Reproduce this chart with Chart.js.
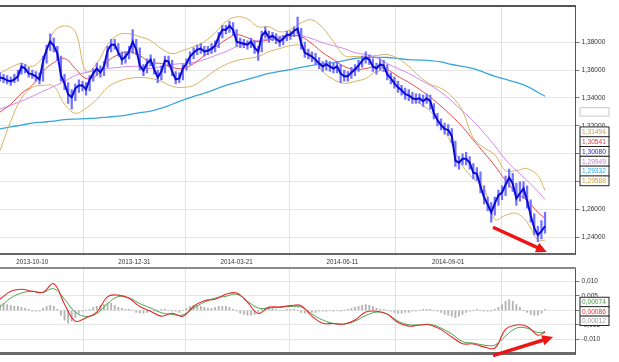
<!DOCTYPE html>
<html>
<head>
<meta charset="utf-8">
<script src="https://cdn.jsdelivr.net/npm/chart.js@4.4.1/dist/chart.umd.min.js"></script>
<style>
  html, body { margin: 0; padding: 0; background: #fff; }
  #wrap { position: relative; width: 619px; height: 362px; overflow: hidden; }
  canvas { position: absolute; left: 0; }
</style>
</head>
<body>
<div id="wrap">
  <canvas id="price" width="619" height="268" style="top:0"></canvas>
  <canvas id="macd" width="619" height="100" style="top:262px"></canvas>
</div>
<script>
// x axis = trading day index, one close every 2 days, indicators every 6 days
var dateLabels = ["2013-10-10", "2013-12-31", "2014-03-21", "2014-06-11", "2014-09-01"];
var labelDays = [18, 75, 132, 191, 250];

var priceTicks = [1.24, 1.26, 1.28, 1.30, 1.32, 1.34, 1.36, 1.38];
var macdTicks = [-0.010, -0.005, 0, 0.005, 0.010];

var closes = [1.3547,1.3540,1.3526,1.3519,1.3533,1.3555,1.3626,1.3611,1.3576,1.3569,
  1.3555,1.3533,1.3661,1.3747,1.3804,1.3775,1.3718,1.3562,1.3505,1.3427,
  1.3405,1.3469,1.3490,1.3490,1.3462,1.3533,1.3576,1.3611,1.3583,1.3626,
  1.3740,1.3782,1.3782,1.3725,1.3675,1.3697,1.3732,1.3804,1.3747,1.3633,
  1.3597,1.3647,1.3675,1.3604,1.3547,1.3590,1.3668,1.3661,1.3590,1.3533,
  1.3540,1.3611,1.3647,1.3697,1.3725,1.3747,1.3754,1.3732,1.3740,1.3754,
  1.3775,1.3839,1.3889,1.3889,1.3917,1.3889,1.3804,1.3796,1.3789,1.3782,
  1.3804,1.3761,1.3732,1.3846,1.3875,1.3832,1.3846,1.3825,1.3804,1.3825,
  1.3853,1.3853,1.3882,1.3896,1.3789,1.3725,1.3711,1.3697,1.3675,1.3647,
  1.3626,1.3640,1.3626,1.3611,1.3626,1.3576,1.3555,1.3555,1.3583,1.3604,
  1.3633,1.3668,1.3690,1.3675,1.3626,1.3611,1.3640,1.3633,1.3569,1.3540,
  1.3505,1.3476,1.3455,1.3427,1.3419,1.3398,1.3391,1.3398,1.3377,1.3398,
  1.3377,1.3291,1.3242,1.3206,1.3178,1.3170,1.3128,1.2950,1.2936,1.2964,
  1.2964,1.2936,1.2864,1.2857,1.2765,1.2687,1.2637,1.2580,1.2644,1.2701,
  1.2722,1.2779,1.2829,1.2786,1.2680,1.2715,1.2751,1.2665,1.2559,1.2466,
  1.2417,1.2445,1.2480];

var highs = [1.358,1.357,1.356,1.355,1.357,1.360,1.365,1.364,1.362,1.360,
  1.359,1.358,1.370,1.378,1.386,1.383,1.377,1.370,1.357,1.351,
  1.346,1.350,1.353,1.352,1.351,1.356,1.361,1.365,1.363,1.366,
  1.377,1.382,1.382,1.379,1.373,1.373,1.377,1.389,1.382,1.376,
  1.364,1.368,1.371,1.368,1.360,1.363,1.370,1.370,1.367,1.359,
  1.358,1.364,1.368,1.373,1.376,1.378,1.379,1.377,1.377,1.379,
  1.381,1.387,1.392,1.392,1.395,1.394,1.389,1.383,1.382,1.381,
  1.383,1.381,1.377,1.388,1.391,1.388,1.387,1.386,1.384,1.385,
  1.388,1.388,1.391,1.398,1.390,1.380,1.375,1.373,1.372,1.369,
  1.366,1.367,1.366,1.365,1.366,1.364,1.360,1.359,1.362,1.364,
  1.367,1.370,1.373,1.371,1.368,1.365,1.368,1.367,1.364,1.358,
  1.355,1.352,1.349,1.347,1.346,1.344,1.343,1.343,1.342,1.343,
  1.342,1.336,1.329,1.325,1.322,1.321,1.318,1.309,1.298,1.300,
  1.301,1.298,1.293,1.290,1.287,1.277,1.269,1.265,1.269,1.274,
  1.277,1.284,1.289,1.286,1.279,1.280,1.280,1.277,1.267,1.257,
  1.248,1.252,1.258];

var lows = [1.352,1.351,1.350,1.349,1.351,1.352,1.357,1.358,1.355,1.354,
  1.352,1.350,1.352,1.365,1.374,1.373,1.367,1.352,1.346,1.336,
  1.332,1.338,1.344,1.345,1.342,1.345,1.352,1.356,1.355,1.356,
  1.362,1.373,1.375,1.370,1.364,1.365,1.368,1.372,1.371,1.360,
  1.356,1.358,1.363,1.357,1.351,1.353,1.358,1.363,1.356,1.350,
  1.351,1.353,1.360,1.364,1.368,1.371,1.372,1.370,1.371,1.372,
  1.373,1.376,1.383,1.386,1.387,1.385,1.377,1.376,1.376,1.375,
  1.376,1.372,1.367,1.373,1.383,1.380,1.381,1.379,1.377,1.378,
  1.381,1.382,1.384,1.386,1.375,1.369,1.368,1.366,1.364,1.361,
  1.359,1.360,1.359,1.358,1.358,1.351,1.352,1.352,1.354,1.356,
  1.359,1.362,1.365,1.364,1.359,1.357,1.360,1.359,1.353,1.350,
  1.347,1.344,1.342,1.339,1.338,1.336,1.336,1.336,1.334,1.336,
  1.332,1.325,1.320,1.317,1.314,1.313,1.308,1.291,1.289,1.292,
  1.292,1.289,1.282,1.281,1.272,1.264,1.259,1.251,1.256,1.263,
  1.267,1.270,1.276,1.273,1.263,1.266,1.268,1.261,1.251,1.242,
  1.237,1.239,1.243];

var ma20 = [1.3299,1.3355,1.3433,1.3490,1.3590,1.3654,1.3683,1.3611,1.3540,1.3562,
  1.3661,1.3711,1.3732,1.3704,1.3654,1.3647,1.3619,1.3611,1.3647,1.3704,
  1.3761,1.3818,1.3853,1.3832,1.3804,1.3818,1.3825,1.3846,1.3839,1.3789,
  1.3725,1.3675,1.3626,1.3604,1.3611,1.3626,1.3604,1.3555,1.3512,1.3462,
  1.3405,1.3341,1.3270,1.3192,1.3099,1.3007,1.2914,1.2808,1.2722,1.2665,
  1.2580,1.2537];

var ma50 = [1.3320,1.3348,1.3377,1.3412,1.3448,1.3483,1.3519,1.3562,1.3583,1.3597,
  1.3611,1.3619,1.3626,1.3626,1.3611,1.3626,1.3640,1.3647,1.3654,1.3675,
  1.3704,1.3732,1.3768,1.3789,1.3811,1.3825,1.3839,1.3846,1.3846,1.3825,
  1.3796,1.3775,1.3754,1.3725,1.3711,1.3690,1.3647,1.3611,1.3576,1.3533,
  1.3491,1.3441,1.3377,1.3306,1.3234,1.3149,1.3057,1.2957,1.2879,1.2808,
  1.2730,1.2672];

var ma200 = [1.3178,1.3192,1.3206,1.3220,1.3227,1.3234,1.3245,1.3249,1.3252,1.3256,
  1.3263,1.3270,1.3281,1.3295,1.3305,1.3327,1.3355,1.3384,1.3412,1.3434,
  1.3462,1.3491,1.3512,1.3533,1.3555,1.3576,1.3590,1.3604,1.3619,1.3633,
  1.3647,1.3654,1.3668,1.3683,1.3690,1.3690,1.3690,1.3683,1.3675,1.3672,
  1.3668,1.3658,1.3640,1.3626,1.3611,1.3583,1.3555,1.3533,1.3512,1.3483,
  1.3441,1.3412];

var bandUpper = [1.3576,1.3619,1.3647,1.3626,1.3697,1.3875,1.3917,1.3875,1.3590,1.3647,
  1.3782,1.3853,1.3860,1.3839,1.3811,1.3754,1.3718,1.3740,1.3768,1.3804,
  1.3868,1.3946,1.3981,1.3967,1.3910,1.3910,1.3875,1.3889,1.3939,1.3960,
  1.3903,1.3804,1.3704,1.3697,1.3697,1.3704,1.3711,1.3683,1.3626,1.3555,
  1.3498,1.3469,1.3412,1.3306,1.3114,1.3042,1.2993,1.2879,1.2879,1.2893,
  1.2843,1.2736];

var bandLower = [1.3021,1.3234,1.3398,1.3476,1.3490,1.3483,1.3355,1.3291,1.3327,1.3391,
  1.3476,1.3519,1.3540,1.3547,1.3540,1.3519,1.3483,1.3476,1.3490,1.3540,
  1.3597,1.3640,1.3668,1.3683,1.3697,1.3732,1.3754,1.3775,1.3775,1.3697,
  1.3590,1.3533,1.3505,1.3519,1.3540,1.3590,1.3583,1.3505,1.3427,1.3362,
  1.3306,1.3206,1.3071,1.2914,1.2822,1.2751,1.2530,1.2559,1.2573,1.2509,
  1.2381,1.2381];

var macdLine = [0.0038,0.0065,0.0072,0.0065,0.0062,0.0091,0.0021,-0.0037,-0.0025,-0.0006,
  0.0047,0.0052,0.0041,0.0013,-0.0003,-0.0020,-0.0010,-0.0020,0.0014,0.0033,
  0.0038,0.0055,0.0059,0.0028,-0.0011,0.0011,0.0011,0.0016,0.0016,-0.0020,
  -0.0044,-0.0045,-0.0047,-0.0033,-0.0006,-0.0003,-0.0013,-0.0042,-0.0054,-0.0050,
  -0.0050,-0.0066,-0.0091,-0.0114,-0.0115,-0.0125,-0.0129,-0.0065,-0.0050,-0.0055,
  -0.0085,-0.0074];

var signalLine = [0.0011,0.0042,0.0059,0.0065,0.0061,0.0074,0.0038,-0.0006,-0.0021,-0.0011,
  0.0023,0.0047,0.0042,0.0023,0.0008,-0.0008,-0.0014,-0.0016,0.0008,0.0028,
  0.0042,0.0048,0.0055,0.0031,0.0008,0.0008,0.0011,0.0013,0.0011,-0.0013,
  -0.0033,-0.0045,-0.0047,-0.0037,-0.0018,-0.0006,-0.0013,-0.0037,-0.0049,-0.0050,
  -0.0048,-0.0061,-0.0081,-0.0107,-0.0112,-0.0119,-0.0119,-0.0088,-0.0061,-0.0061,
  -0.0076,-0.0073];

var histogram = [0.0020,0.0024,0.0020,0.0017,0.0014,0.0014,0.0010,0.0007,0.0003,-0.0003,
  -0.0003,-0.0003,0.0007,0.0014,0.0017,0.0014,0.0003,-0.0017,-0.0034,-0.0044,
  -0.0037,-0.0024,-0.0010,-0.0003,0,0.0003,0.0010,0.0014,0.0017,0.0020,
  0.0024,0.0024,0.0017,0.0010,0.0007,0.0003,0.0003,0,-0.0007,-0.0010,
  -0.0010,-0.0007,-0.0003,-0.0003,-0.0003,0.0003,0.0003,0,-0.0003,-0.0003,
  -0.0007,0,0.0007,0.0014,0.0017,0.0017,0.0014,0.0010,0.0007,0.0007,
  0.0010,0.0014,0.0014,0.0014,0.0010,0.0003,-0.0003,-0.0010,-0.0014,-0.0017,
  -0.0017,-0.0014,-0.0007,0.0003,0.0007,0.0010,0.0007,0.0003,0,0,
  0.0003,0.0003,0.0003,0,-0.0007,-0.0010,-0.0010,-0.0007,-0.0007,-0.0003,
  -0.0003,-0.0003,0,-0.0003,0,-0.0003,0,0.0003,0.0007,0.0010,
  0.0014,0.0017,0.0020,0.0017,0.0014,0.0007,0.0003,0.0003,0,-0.0003,
  -0.0007,-0.0010,-0.0010,-0.0007,-0.0007,-0.0003,-0.0003,0,0.0003,0.0003,
  0.0003,0,-0.0003,-0.0007,-0.0014,-0.0017,-0.0020,-0.0024,-0.0020,-0.0014,
  -0.0007,-0.0003,0,0.0003,0,-0.0003,-0.0003,-0.0003,0.0003,0.0010,
  0.0020,0.0031,0.0037,0.0031,0.0020,0.0010,0,-0.0007,-0.0014,-0.0017,
  -0.0017,-0.0010,0.0003];

// value tags on the right axis
var priceTagTexts = ["1,31494", "1,30541", "1,30080", "1,29949", "1,29332", "1,29588"];
var priceTagColors = ["#c9a04a", "#e23a3a", "#2323c8", "#c27be0", "#2ea3df", "#c9a04a"];
var priceTagTop = 1.3196;
var emptyTagTop = 1.3334;
var macdTagTexts = ["0,00074", "0,00086", "0,00012"];
var macdTagColors = ["#3c9a3c", "#e03030", "#9a9a9a"];
var macdTagTop = 0.00464;

// red arrows, [day, value] pairs
var priceArrow = [[275, 1.2473], [305, 1.2296]];
var macdArrow = [[275, -0.0155], [308.5, -0.00914]];

var priceDays = [];
for (var k = 0; k < closes.length; k++) priceDays.push(k * 2);
var maDays = [];
for (var d = 0; d <= 300; d += 6) maDays.push(d);
maDays.push(304);

Chart.defaults.font.family = "'Liberation Sans', Arial, sans-serif";

function series(days, vals) {
  return vals.map(function (v, i) { return { x: days[i], y: v }; });
}
function lineSet(days, vals, color, width, order) {
  return { type: 'line', data: series(days, vals), borderColor: color, borderWidth: width,
    pointRadius: 0, tension: 0.4, fill: false, order: order };
}
function comma(v, n) { return v.toFixed(n).replace('.', ','); }

function drawTag(ctx, left, top, h, text, color, border) {
  ctx.fillStyle = '#fff';
  ctx.fillRect(left, top, 29, h);
  ctx.strokeStyle = border;
  ctx.lineWidth = 1;
  ctx.strokeRect(left + 0.5, top + 0.5, 29, h);
  if (text) {
    ctx.fillStyle = color;
    ctx.font = "6.6px 'Liberation Sans', Arial";
    ctx.textBaseline = 'middle';
    ctx.textAlign = 'left';
    ctx.fillText(text, left + 2.5, top + h / 2 + 1);
  }
}
function drawArrow(ctx, x0, y0, x1, y1) {
  var ang = Math.atan2(y1 - y0, x1 - x0), head = 12;
  ctx.strokeStyle = '#ee1515';
  ctx.fillStyle = '#ee1515';
  ctx.lineWidth = 3.5;
  ctx.beginPath();
  ctx.moveTo(x0, y0);
  ctx.lineTo(x1 - Math.cos(ang) * head * 0.7, y1 - Math.sin(ang) * head * 0.7);
  ctx.stroke();
  ctx.beginPath();
  ctx.moveTo(x1, y1);
  ctx.lineTo(x1 - head * Math.cos(ang - 0.45), y1 - head * Math.sin(ang - 0.45));
  ctx.lineTo(x1 - head * Math.cos(ang + 0.45), y1 - head * Math.sin(ang + 0.45));
  ctx.closePath();
  ctx.fill();
}

var tickFont = { size: 6.6 };

var priceOverlay = {
  id: 'priceOverlay',
  afterDraw: function (chart) {
    var ctx = chart.ctx, a = chart.chartArea, xs = chart.scales.x, ys = chart.scales.y;
    ctx.save();
    ctx.strokeStyle = '#555';
    ctx.lineWidth = 2;
    ctx.beginPath();
    ctx.moveTo(0, a.top);
    ctx.lineTo(a.right + 0.5, a.top);
    ctx.stroke();
    drawTag(ctx, a.right + 4, ys.getPixelForValue(emptyTagTop), 8.5, '', '#000', '#c8c8c8');
    var top = ys.getPixelForValue(priceTagTop);
    for (var i = 0; i < priceTagTexts.length; i++) {
      drawTag(ctx, a.right + 4, top + i * 9.8, 9.8, priceTagTexts[i], priceTagColors[i], '#222');
    }
    drawArrow(ctx, xs.getPixelForValue(priceArrow[0][0]), ys.getPixelForValue(priceArrow[0][1]),
      xs.getPixelForValue(priceArrow[1][0]), ys.getPixelForValue(priceArrow[1][1]));
    ctx.restore();
  }
};

var macdOverlay = {
  id: 'macdOverlay',
  afterDraw: function (chart) {
    var ctx = chart.ctx, a = chart.chartArea, xs = chart.scales.x, ys = chart.scales.y;
    ctx.save();
    ctx.strokeStyle = '#8a8a8a';
    ctx.lineWidth = 2;
    ctx.beginPath();
    ctx.moveTo(0, a.top);
    ctx.lineTo(a.right + 0.5, a.top);
    ctx.stroke();
    var top = ys.getPixelForValue(macdTagTop);
    for (var i = 0; i < macdTagTexts.length; i++) {
      drawTag(ctx, a.right + 4, top + i * 9.4, 9.4, macdTagTexts[i], macdTagColors[i], '#222');
    }
    drawArrow(ctx, xs.getPixelForValue(macdArrow[0][0]), ys.getPixelForValue(macdArrow[0][1]),
      xs.getPixelForValue(macdArrow[1][0]), ys.getPixelForValue(macdArrow[1][1]));
    ctx.restore();
  }
};

new Chart(document.getElementById('price'), {
  type: 'line',
  data: {
    datasets: [
      { type: 'line', data: series(priceDays, closes), borderColor: '#0a0ad2', borderWidth: 2,
        pointRadius: 0, tension: 0, fill: false, order: 1 },
      { type: 'bar', data: priceDays.map(function (d, i) { return { x: d, y: [lows[i], highs[i]] }; }),
        backgroundColor: '#7272ff', barThickness: 1.6, order: 2 },
      lineSet(maDays, ma20, '#e84848', 1, 3),
      lineSet(maDays, ma50, '#d385ee', 1, 4),
      lineSet(maDays, bandUpper, '#d7b262', 1, 5),
      lineSet(maDays, bandLower, '#d7b262', 1, 6),
      lineSet(maDays, ma200, '#3aa6dc', 1.3, 7)
    ]
  },
  options: {
    responsive: false,
    animation: false,
    events: [],
    layout: { padding: { top: 4, left: 0, right: 0, bottom: 0 } },
    plugins: { legend: { display: false }, tooltip: { enabled: false } },
    scales: {
      x: {
        type: 'linear', min: 0, max: 321, offset: false,
        afterBuildTicks: function (s) { s.ticks = labelDays.map(function (v) { return { value: v }; }); },
        afterFit: function (s) { s.height = 14; },
        ticks: { autoSkip: false, maxRotation: 0, padding: 1, color: '#333', font: { size: 6.3 },
          callback: function (v, i) { return dateLabels[i]; } },
        grid: { color: '#e0e0e0', tickLength: 3 },
        border: { color: '#666', width: 2 }
      },
      y: {
        position: 'right', min: 1.22812, max: 1.40597,
        afterBuildTicks: function (s) { s.ticks = priceTicks.map(function (v) { return { value: v }; }); },
        afterFit: function (s) { s.width = 43.5; },
        ticks: { padding: 2, color: '#333', font: tickFont, callback: function (v) { return comma(v, 5); } },
        grid: { color: '#e6e6e6', tickLength: 4, tickColor: '#777' },
        border: { color: '#555', width: 1 }
      }
    }
  },
  plugins: [priceOverlay]
});

new Chart(document.getElementById('macd'), {
  type: 'line',
  data: {
    datasets: [
      lineSet(maDays, macdLine, '#e62a2a', 1.1, 1),
      lineSet(maDays, signalLine, '#4ea24e', 1, 2),
      { type: 'bar', data: series(priceDays, histogram), backgroundColor: '#b4b4b4',
        barThickness: 1.2, order: 3 }
    ]
  },
  options: {
    responsive: false,
    animation: false,
    events: [],
    layout: { padding: { top: 5.7, left: 0, right: 0, bottom: 8.7 } },
    plugins: { legend: { display: false }, tooltip: { enabled: false } },
    scales: {
      x: {
        type: 'linear', min: 0, max: 321, offset: false,
        afterBuildTicks: function (s) { s.ticks = labelDays.map(function (v) { return { value: v }; }); },
        afterFit: function (s) { s.height = 0; },
        ticks: { display: false },
        grid: { color: '#e0e0e0', drawTicks: false },
        border: { color: '#6a6a6a', width: 3 }
      },
      y: {
        position: 'right', min: -0.0147, max: 0.01449,
        afterBuildTicks: function (s) { s.ticks = macdTicks.map(function (v) { return { value: v }; }); },
        afterFit: function (s) { s.width = 43.5; },
        ticks: { padding: 2, color: '#333', font: tickFont, callback: function (v) { return comma(v, 3); } },
        grid: { color: '#e6e6e6', tickLength: 4, tickColor: '#777' },
        border: { color: '#555', width: 1 }
      }
    }
  },
  plugins: [macdOverlay]
});
</script>
</body>
</html>
